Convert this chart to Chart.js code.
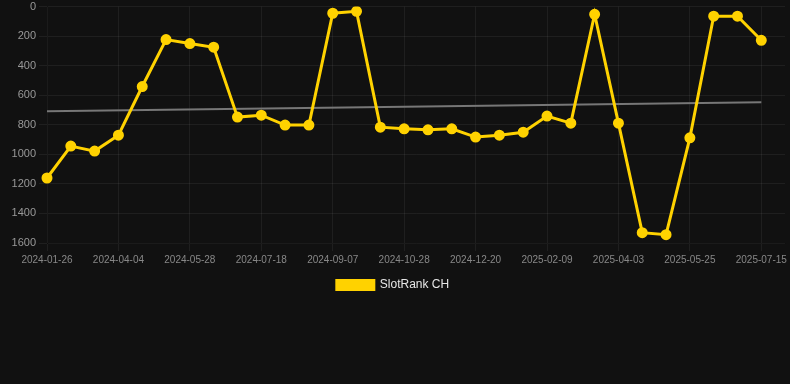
<!DOCTYPE html>
<html>
<head>
<meta charset="utf-8">
<script src="https://cdn.jsdelivr.net/npm/chart.js@4.4.1/dist/chart.umd.min.js"></script>
<style>
  html, body { margin: 0; padding: 0; background: #111111; }
  #wrap { width: 790px; height: 304px; position: relative; margin-top: -3px; }
</style>
</head>
<body>
<div id="wrap"><canvas id="myChart"></canvas></div>
<script>
// dates, one per point (every third is shown on the axis); the last one has no value
var dates = ["2024-01-26", "2024-02-18", "2024-03-12", "2024-04-04", "2024-04-22", "2024-05-10",
  "2024-05-28", "2024-06-14", "2024-07-01", "2024-07-18", "2024-08-04", "2024-08-21",
  "2024-09-07", "2024-09-24", "2024-10-11", "2024-10-28", "2024-11-15", "2024-12-02",
  "2024-12-20", "2025-01-06", "2025-01-23", "2025-02-09", "2025-02-26", "2025-03-16",
  "2025-04-03", "2025-04-20", "2025-05-08", "2025-05-25", "2025-06-11", "2025-06-28",
  "2025-07-15", "2025-08-01"];

var rank = [1160, 944, 978, 870, 541, 223, 250, 275, 748, 735, 802, 802,
  45, 32, 816, 827, 834, 827, 883, 870, 850, 741, 789, 52,
  789, 1530, 1544, 888, 65, 65, 228, null];

// trend line: start and end only
var trend = [708, null, null, null, null, null, null, null, null, null, null, null,
  null, null, null, null, null, null, null, null, null, null, null, null,
  null, null, null, null, null, null, 647, null];

var yTicks = { min: 0, max: 1600, step: 200 };

var ctx = document.getElementById('myChart').getContext('2d');
var chart = new Chart(ctx, {
  type: 'line',
  data: {
    labels: dates,
    datasets: [
      {
        label: "SlotRank CH",
        data: rank,
        borderColor: "#ffd200",
        backgroundColor: "#ffd200",
        borderWidth: 3,
        pointRadius: 4,
        pointHoverRadius: 4,
        tension: 0,
        fill: false
      },
      {
        label: "trend",
        data: trend,
        borderColor: "#777777",
        borderWidth: 2,
        pointRadius: 0,
        spanGaps: true,
        fill: false
      }
    ]
  },
  options: {
    responsive: true,
    maintainAspectRatio: false,
    animation: false,
    layout: { autoPadding: false, padding: { right: 4 } },
    plugins: {
      legend: {
        position: 'bottom',
        labels: {
          color: "#e6e6e6",
          boxWidth: 37,
          boxHeight: 9,
          font: { family: "Liberation Sans, Arial", size: 12 },
          filter: function(item) { return item.text != "trend"; }
        }
      },
      tooltip: { enabled: false }
    },
    scales: {
      x: {
        grid: { color: "rgba(255,255,255,0.06)" },
        ticks: {
          color: "#888888",
          autoSkip: false,
          maxRotation: 0,
          font: { family: "Liberation Sans, Arial", size: 10 },
          callback: function(val, i) {
            return (i % 3 == 0 && i < 31) ? dates[i] : null;
          }
        }
      },
      y: {
        reverse: true,
        min: yTicks.min,
        max: yTicks.max,
        afterFit: function(scale) { scale.width = 47; },
        grid: { color: "rgba(255,255,255,0.06)" },
        ticks: {
          stepSize: yTicks.step,
          color: "#999999",
          font: { family: "Liberation Sans, Arial", size: 11 },
          callback: function(val) { return String(val); }
        }
      }
    }
  }
});
</script>
</body>
</html>
